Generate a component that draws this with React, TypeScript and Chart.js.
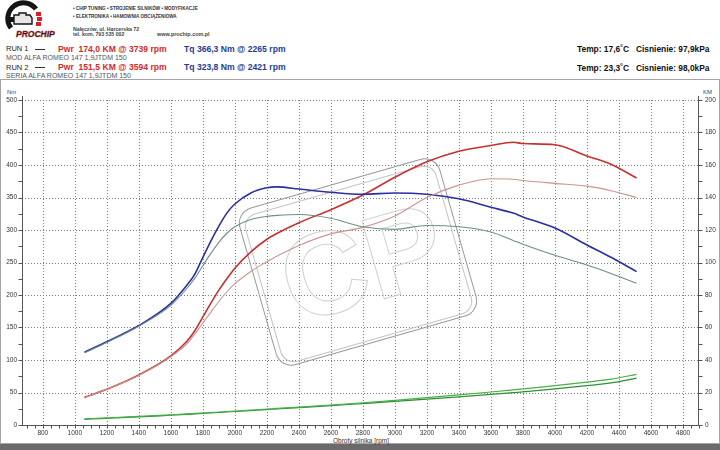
import React, { useEffect, useRef } from 'react';
import { Chart, registerables } from 'chart.js';

Chart.register(...registerables);

// ---- data ----
const rpm = [1060, 1200, 1400, 1600, 1700, 1750, 1800, 1850, 1900, 1950, 2000, 2100, 2200, 2265, 2400, 2600, 2800, 3000, 3200, 3400, 3600, 3739, 3800, 4000, 4200, 4350, 4510];
const run1Torque = [112, 128, 153, 187, 215, 232, 258, 283, 306, 326, 340, 357, 365, 366.3, 363, 358, 355, 357, 355, 348, 335, 326, 320, 303, 277, 258, 236];
const run1Power = [17, 22, 30.8, 42.5, 51.5, 58, 66.5, 75, 83, 90, 96.5, 106.5, 114.3, 118, 124.5, 132.5, 141.5, 152.5, 162, 168.5, 172, 174.0, 173.2, 172.5, 165.5, 160.5, 152];
const run2Torque = [111, 127, 152, 184, 210, 226, 245, 264, 281, 295, 305, 316, 321, 322.5, 323.8, 318, 305, 301, 307, 305, 297, 284, 278, 261, 246, 233, 218];
const run2Power = [16.8, 22, 30.5, 42, 50, 56, 62.8, 69.5, 76, 82, 87, 94.5, 100.5, 104, 110.5, 117.6, 121.6, 128.6, 140, 147.6, 151.5, 151.2, 150.5, 148.7, 147, 144.2, 140];
const loss1 = [3.8, 4.4, 5.3, 6.3, 6.8, 7.1, 7.4, 7.7, 8.0, 8.3, 8.6, 9.2, 9.8, 10.2, 11.0, 12.3, 13.7, 15.2, 16.8, 18.5, 20.3, 21.6, 22.2, 24.2, 26.4, 28.2, 31.2];
const loss2 = [3.5, 4.1, 5.0, 6.0, 6.5, 6.8, 7.1, 7.4, 7.7, 8.0, 8.3, 8.9, 9.5, 9.9, 10.7, 11.9, 13.2, 14.5, 15.9, 17.3, 18.8, 19.9, 20.4, 22.2, 24.2, 25.9, 28.8];

const xTickValues = [800, 1000, 1200, 1400, 1600, 1800, 2000, 2200, 2400, 2600, 2800, 3000, 3200, 3400, 3600, 3800, 4000, 4200, 4400, 4600, 4800];
const nmTickValues = [0, 50, 100, 150, 200, 250, 300, 350, 400, 450, 500];
const kmTickValues = [0, 20, 40, 60, 80, 100, 120, 140, 160, 180, 200];
const X_MIN = 670;
const X_MAX = 4900;

const pts = (ys: number[]) => rpm.map((x, i) => ({ x, y: ys[i] }));

const FONT = "'Liberation Sans', Arial, sans-serif";

const dynoPlugin = {
  id: 'dynoDecor',
  beforeDatasetsDraw(chart: any) {
    const { ctx, chartArea, scales } = chart;
    const { left, right, top, bottom } = chartArea;
    const x = scales.x;
    const y = scales.y;
    const y1 = scales.y1;
    const line = (x1: number, y1p: number, x2: number, y2p: number) => {
      ctx.beginPath();
      ctx.moveTo(x1, y1p);
      ctx.lineTo(x2, y2p);
      ctx.stroke();
    };
    ctx.save();
    // dotted grid
    ctx.strokeStyle = '#7d7d7d';
    ctx.lineWidth = 1;
    ctx.setLineDash([1, 2]);
    xTickValues.forEach((v) => {
      const px = Math.round(x.getPixelForValue(v)) + 0.5;
      line(px, top, px, bottom);
    });
    nmTickValues.forEach((v) => {
      if (v === 0) return;
      const py = Math.round(y.getPixelForValue(v)) + 0.5;
      line(left, py, right, py);
    });
    ctx.setLineDash([]);

    // watermark
    ctx.save();
    ctx.translate(358, 182);
    ctx.rotate((-16 * Math.PI) / 180);
    const rr = (w: number, h: number, r: number, dx = 0, dy = 0) => {
      const x0 = -w / 2 + dx;
      const y0 = -h / 2 + dy;
      ctx.beginPath();
      ctx.moveTo(x0 + r, y0);
      ctx.lineTo(x0 + w - r, y0);
      ctx.arcTo(x0 + w, y0, x0 + w, y0 + r, r);
      ctx.lineTo(x0 + w, y0 + h - r);
      ctx.arcTo(x0 + w, y0 + h, x0 + w - r, y0 + h, r);
      ctx.lineTo(x0 + r, y0 + h);
      ctx.arcTo(x0, y0 + h, x0, y0 + h - r, r);
      ctx.lineTo(x0, y0 + r);
      ctx.arcTo(x0, y0, x0 + r, y0, r);
      ctx.closePath();
      ctx.stroke();
    };
    ctx.strokeStyle = '#9a9a9a';
    ctx.lineWidth = 1;
    rr(208, 163, 16);
    ctx.strokeStyle = '#c4c4c4';
    rr(198, 153, 13, 0, 2);
    ctx.strokeStyle = '#d2d2d2';
    ctx.font = `bold 118px ${FONT}`;
    ctx.textAlign = 'center';
    ctx.textBaseline = 'middle';
    ctx.strokeText('CP', 4, 10);
    ctx.restore();

    // axes
    ctx.strokeStyle = '#555';
    ctx.lineWidth = 1;
    const L = Math.round(left) + 0.5;
    const R = Math.round(right) - 0.5;
    const B = Math.round(bottom) + 0.5;
    line(L, top - 4, L, B);
    line(R, top - 4, R, B);
    line(L, B, R, B);
    // minor / major ticks
    for (let v = 700; v <= X_MAX; v += 50) {
      const px = Math.round(x.getPixelForValue(v)) + 0.5;
      line(px, B, px, B + 3);
    }
    for (let v = 0; v <= 500; v += 25) {
      const py = Math.round(y.getPixelForValue(v)) + 0.5;
      line(L - 4, py, L, py);
    }
    for (let v = 0; v <= 200; v += 10) {
      const py = Math.round(y1.getPixelForValue(v)) + 0.5;
      line(R, py, R + 4, py);
    }
    ctx.restore();
  },
};

function DynoChart() {
  const ref = useRef<HTMLCanvasElement | null>(null);
  useEffect(() => {
    if (!ref.current) return;
    const mk = (label: string, data: number[], color: string, width: number, axis: string) => ({
      label,
      data: pts(data),
      borderColor: color,
      backgroundColor: color,
      borderWidth: width,
      pointRadius: 0,
      fill: false,
      cubicInterpolationMode: 'monotone',
      yAxisID: axis,
    });
    const chart = new Chart(ref.current, {
      type: 'line',
      data: {
        datasets: [
          mk('Straty RUN 1', loss1, '#46b046', 1.2, 'y1'),
          mk('Straty RUN 2', loss2, '#2f8f34', 1.2, 'y1'),
          mk('Tq RUN 2', run2Torque, '#6f8f89', 1.1, 'y'),
          mk('Pwr RUN 2', run2Power, '#c9968f', 1.1, 'y1'),
          mk('Tq RUN 1', run1Torque, '#2b2f9f', 1.6, 'y'),
          mk('Pwr RUN 1', run1Power, '#c8302f', 1.6, 'y1'),
        ] as any,
      },
      options: {
        animation: false,
        responsive: false,
        devicePixelRatio: 1,
        parsing: false as any,
        layout: { padding: { top: 20, left: 0, right: 0, bottom: 0 } },
        plugins: { legend: { display: false }, tooltip: { enabled: false } },
        scales: {
          x: {
            type: 'linear',
            min: X_MIN,
            max: X_MAX,
            afterBuildTicks: (s: any) => {
              s.ticks = xTickValues.map((v) => ({ value: v }));
            },
            afterFit: (s: any) => {
              s.height = 25;
            },
            grid: { display: false, drawTicks: false },
            border: { display: false },
            ticks: {
              padding: 4,
              color: '#333',
              font: { family: FONT, size: 6.5 },
              maxRotation: 0,
              autoSkip: false,
              callback: (v: any) => String(v),
            },
          },
          y: {
            type: 'linear',
            position: 'left',
            min: 0,
            max: 500,
            afterBuildTicks: (s: any) => {
              s.ticks = nmTickValues.map((v) => ({ value: v }));
            },
            afterFit: (s: any) => {
              s.width = 22;
            },
            grid: { display: false, drawTicks: false },
            border: { display: false },
            ticks: {
              padding: 5,
              color: '#333',
              font: { family: FONT, size: 6.5 },
              callback: (v: any) => String(v),
            },
          },
          y1: {
            type: 'linear',
            position: 'right',
            min: 0,
            max: 200,
            afterBuildTicks: (s: any) => {
              s.ticks = kmTickValues.map((v) => ({ value: v }));
            },
            afterFit: (s: any) => {
              s.width = 21;
            },
            grid: { display: false, drawTicks: false },
            border: { display: false },
            ticks: {
              padding: 6,
              color: '#333',
              font: { family: FONT, size: 6.5 },
              callback: (v: any) => String(v),
            },
          },
        },
      } as any,
      plugins: [dynoPlugin],
    });
    return () => chart.destroy();
  }, []);
  return (
    <canvas
      ref={ref}
      width={720}
      height={370}
      style={{ position: 'absolute', left: 0, top: 80, width: 720, height: 370 }}
    />
  );
}

const abs = (left: number, top: number, extra: React.CSSProperties = {}): React.CSSProperties => ({
  position: 'absolute',
  left,
  top,
  whiteSpace: 'pre',
  fontFamily: FONT,
  lineHeight: 1,
  ...extra,
});

function Logo() {
  return (
    <svg width={72} height={44} style={{ position: 'absolute', left: 0, top: 0 }}>
      <path d="M 11 28 A 15 15 0 0 1 36 9" stroke="#151515" strokeWidth={5} fill="none" />
      <rect x={36} y={12} width={5} height={4} fill="#d02525" />
      <rect x={37} y={17} width={5} height={4} fill="#d02525" />
      <rect x={36} y={22} width={5} height={4} fill="#d02525" />
      <path d="M 14 15 L 19 15 L 19 13 L 26 13 L 26 15 L 30 15 L 32 18 L 32 24 L 14 24 Z" fill="#e6e6e6" stroke="#151515" strokeWidth={1.4} />
      <rect x={10} y={17} width={4} height={5} fill="#151515" />
      <text x={16} y={37} fontFamily={FONT} fontWeight="bold" fontStyle="italic" fontSize={8.5} fill="#151515" stroke="#c42020" strokeWidth={0.35}>
        PROCHIP
      </text>
    </svg>
  );
}

export default function App() {
  const blue = '#1f3c96';
  const red = '#d22b2b';
  return (
    <div style={{ position: 'fixed', left: 0, top: 0, width: 720, height: 450, background: '#fff', overflow: 'hidden' }}>
      <Logo />
      <div style={abs(73, 7, { fontSize: 4.6, fontWeight: 'bold', color: '#333' })}>• CHIP TUNING • STROJENIE SILNIKÓW • MODYFIKACJE</div>
      <div style={abs(73, 14.5, { fontSize: 4.6, fontWeight: 'bold', color: '#333' })}>• ELEKTRONIKA • HAMOWNIA OBCIĄŻENIOWA</div>
      <div style={abs(73, 26.5, { fontSize: 5.2, fontWeight: 'bold', color: '#444' })}>Nałęczów, ul. Harcerska 72</div>
      <div style={abs(73, 32, { fontSize: 5.2, fontWeight: 'bold', color: '#444' })}>tel. kom. 793 535 002</div>
      <div style={abs(157, 32, { fontSize: 5.4, fontWeight: 'bold', color: '#444' })}>www.prochip.com.pl</div>

      <div style={abs(6, 45, { fontSize: 7.5, color: '#222' })}>RUN 1</div>
      <div style={{ position: 'absolute', left: 35, top: 49, width: 10, height: 1, background: '#333' }} />
      <div style={abs(58, 44.8, { fontSize: 8.6, fontWeight: 'bold', color: red })}>Pwr  174,0 KM @ 3739 rpm</div>
      <div style={abs(184, 44.8, { fontSize: 8.6, fontWeight: 'bold', color: blue })}>Tq 366,3 Nm @ 2265 rpm</div>
      <div style={abs(6, 54, { fontSize: 7, color: '#555' })}>MOD ALFA ROMEO 147 1,9JTDM 150</div>

      <div style={abs(6, 63.5, { fontSize: 7.5, color: '#222' })}>RUN 2</div>
      <div style={{ position: 'absolute', left: 35, top: 67, width: 10, height: 1, background: '#333' }} />
      <div style={abs(58, 63.3, { fontSize: 8.6, fontWeight: 'bold', color: red })}>Pwr  151,5 KM @ 3594 rpm</div>
      <div style={abs(184, 63.3, { fontSize: 8.6, fontWeight: 'bold', color: blue })}>Tq 323,8 Nm @ 2421 rpm</div>
      <div style={abs(6, 72, { fontSize: 7, color: '#555' })}>SERIA ALFA ROMEO 147 1,9JTDM 150</div>

      <div style={abs(577, 45.3, { fontSize: 8.4, fontWeight: 'bold', color: '#111' })}>Temp: 17,6˚C   Cisnienie: 97,9kPa</div>
      <div style={abs(577, 63.8, { fontSize: 8.4, fontWeight: 'bold', color: '#111' })}>Temp: 23,3˚C   Cisnienie: 98,0kPa</div>

      <div style={{ position: 'absolute', left: 0, top: 79, width: 718, height: 363, border: '1px solid #a5a5a5' }} />
      <div style={{ position: 'absolute', left: 0, top: 444, width: 720, height: 6, background: '#6b6b6b' }} />

      <div style={abs(7, 89, { fontSize: 6, color: '#444' })}>Nm</div>
      <div style={abs(703, 89, { fontSize: 6, color: '#444' })}>KM</div>
      <div style={abs(333, 437.5, { fontSize: 6.5, color: '#333' })}>Obroty silnika [rpm]</div>

      <DynoChart />
    </div>
  );
}
